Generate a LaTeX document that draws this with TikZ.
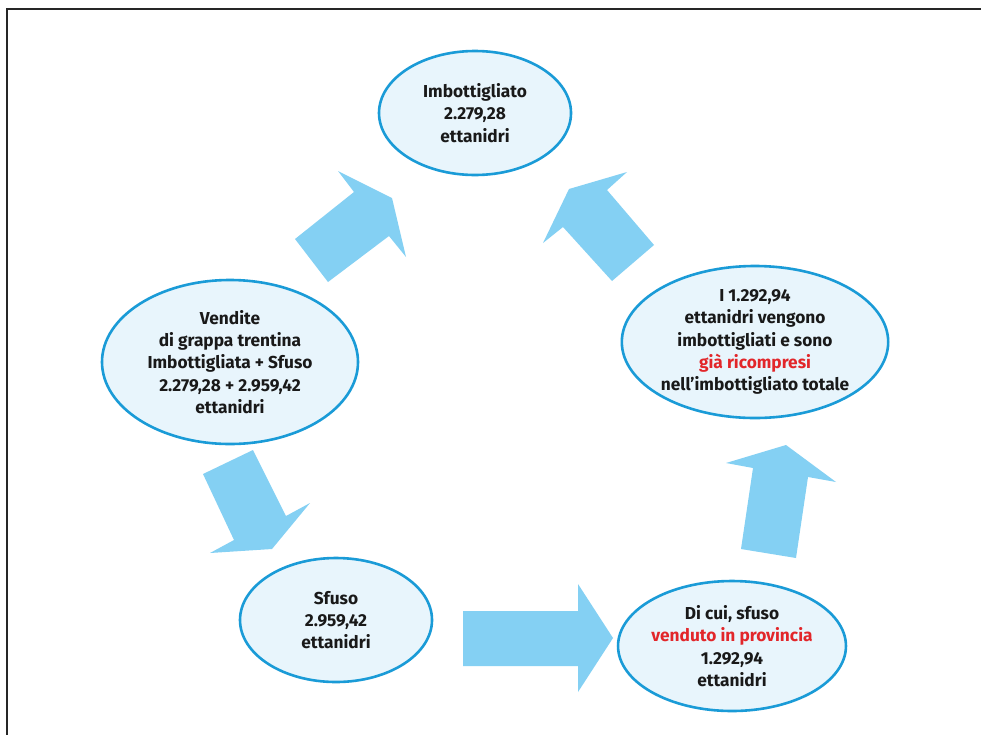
\documentclass[tikz,border=0pt]{standalone}
\usepackage{fontspec}
\setmainfont{Fira Sans}
\usetikzlibrary{shapes.geometric}
\definecolor{ellfill}{HTML}{E8F5FC}
\definecolor{elldraw}{HTML}{1A9BD7}
\definecolor{arrfill}{HTML}{84D0F3}
\definecolor{redtxt}{HTML}{E2262A}
\tikzset{
  bubble/.style={ellipse, draw=elldraw, fill=ellfill, line width=2.6pt, inner sep=0pt,
    align=center, text=black!90, font=\fontsize{17.3}{22.3}\selectfont\bfseries},
  blockarrow/.style={fill=arrfill, draw=none},
  framelines/.style={draw=black!85, line width=2pt}
}
\newcommand{\rd}[1]{\textcolor{redtxt}{#1}}
\begin{document}
\begin{tikzpicture}[x=1pt,y=-1pt]
\useasboundingbox (0,0) rectangle (981,734);
\fill[white] (0,0) rectangle (981,734);
\draw[framelines] (7,740) -- (7,9) -- (990,9);

% block arrows
\fill[blockarrow] (295,239) -- (354,192) -- (338,171) -- (392,198) -- (406,257) -- (389,236) -- (328,282) -- cycle;
\fill[blockarrow] (654,245) -- (607,190) -- (627,172) -- (569,189) -- (543,243) -- (563,227) -- (612,281) -- cycle;
\fill[blockarrow] (203,474) -- (253,450) -- (286,516) -- (310,503) -- (272,549) -- (210,553) -- (234,540) -- cycle;
\fill[blockarrow] (463,611) -- (578,611) -- (578,584) -- (613,638) -- (578,692) -- (578,666) -- (463,666) -- cycle;
\fill[blockarrow] (741,549) -- (796,558) -- (808,477) -- (836,482) -- (786,445) -- (726,463) -- (753,468) -- cycle;

% bubbles
\node[bubble, minimum width=192pt, minimum height=124pt] (imb) at (475,113)
  {Imbottigliato\\2.279,28\\ettanidri};
\node[bubble, minimum width=256pt, minimum height=164pt] (vend) at (230,362)
  {Vendite\\di grappa trentina\\Imbottigliata + Sfuso\\2.279,28 + 2.959,42\\ettanidri};
\node[bubble, minimum width=264pt, minimum height=152pt] (ric) at (755,342)
  {I 1.292,94\\ettanidri vengono\\imbottigliati e sono\\\rd{già ricompresi}\\nell’imbottigliato totale};
\node[bubble, minimum width=192pt, minimum height=124pt] (sfu) at (336,620)
  {Sfuso\\2.959,42\\ettanidri};
\node[bubble, minimum width=200pt, minimum height=130pt] (prov) at (732,646)
  {Di cui, sfuso\\\rd{venduto in provincia}\\1.292,94\\ettanidri};
\end{tikzpicture}
\end{document}
